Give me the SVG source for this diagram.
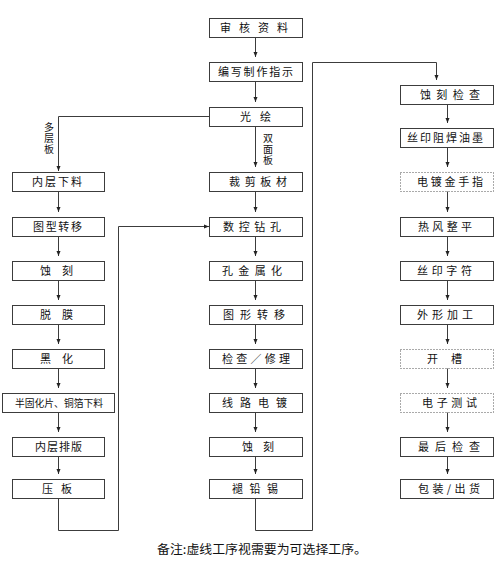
<svg xmlns="http://www.w3.org/2000/svg" width="500" height="569" viewBox="0 0 500 569">
<style>
.b{fill:#fff;stroke:#3c3c3c;stroke-width:1}
.d{fill:#fff;stroke:#555;stroke-width:1;stroke-dasharray:1 2}
.t{font-family:"Noto Sans CJK SC","Liberation Sans",sans-serif;font-size:11px;fill:#111;text-anchor:middle}
.v{font-family:"Noto Sans CJK SC","Liberation Sans",sans-serif;font-size:10px;fill:#111;writing-mode:vertical-rl;text-orientation:upright}
.c{fill:none;stroke:#3c3c3c;stroke-width:1}
</style>
<defs>
<marker id="a" markerUnits="userSpaceOnUse" markerWidth="5" markerHeight="5" refX="5" refY="2.5" orient="auto">
<path d="M0,0.5 L5,2.5 L0,4.5 z" fill="#222"/>
</marker>
</defs>
<rect width="500" height="569" fill="#fff"/>
<g id="connectors" class="c" marker-end="url(#a)">
<path d="M255.5,37 V57"/>
<path d="M255.5,81 V102"/>
<path d="M255.5,126 V167"/>
<path d="M255.5,191 V212"/>
<path d="M255.5,236 V256"/>
<path d="M255.5,280 V300"/>
<path d="M255.5,324 V344"/>
<path d="M255.5,368 V388"/>
<path d="M255.5,412 V432"/>
<path d="M255.5,456 V474"/>
<path d="M209,116.5 H58.5 V171"/>
<path d="M58.5,191 V212"/>
<path d="M58.5,236 V256"/>
<path d="M58.5,280 V300"/>
<path d="M58.5,324 V344"/>
<path d="M58.5,368 V388"/>
<path d="M58.5,412 V432"/>
<path d="M58.5,456 V474"/>
<path d="M58.5,498 V530.5 H118.5 V226.5 H209"/>
<path d="M255.5,498 V530.5 H312.5 V62.5 H436.5 V80"/>
<path d="M447.5,104 V123"/>
<path d="M447.5,147 V167"/>
<path d="M447.5,191 V212"/>
<path d="M447.5,236 V256"/>
<path d="M447.5,280 V300"/>
<path d="M447.5,324 V344"/>
<path d="M447.5,368 V388"/>
<path d="M447.5,412 V432"/>
<path d="M447.5,456 V474"/>
</g>
<g id="lbl-multi"><text class="v" x="49" y="122" textLength="32" lengthAdjust="spacing">多层板</text></g>
<g id="lbl-double"><text class="v" x="268" y="133" textLength="32" lengthAdjust="spacing">双面板</text></g>

<g id="n-shenhe"><rect class="b" x="209.5" y="18.5" width="93" height="19"/><text class="t" x="254" y="32" textLength="68" lengthAdjust="spacing">审核资料</text></g>
<g id="n-bianxie"><rect class="b" x="209.5" y="62.5" width="93" height="19"/><text class="t" x="255.5" y="76" textLength="75" lengthAdjust="spacing">编写制作指示</text></g>
<g id="n-guanghui"><rect class="b" x="209.5" y="107.5" width="93" height="19"/><text class="t" x="255.5" y="121" textLength="31" lengthAdjust="spacing">光 绘</text></g>
<g id="n-caijian"><rect class="b" x="209.5" y="172.5" width="93" height="19"/><text class="t" x="258" y="186" textLength="58" lengthAdjust="spacing">裁剪板材</text></g>
<g id="n-shukong"><rect class="b" x="209.5" y="217.5" width="93" height="19"/><text class="t" x="252" y="231" textLength="58" lengthAdjust="spacing">数控钻孔</text></g>
<g id="n-kongjin"><rect class="b" x="209.5" y="261.5" width="93" height="19"/><text class="t" x="252" y="275" textLength="60" lengthAdjust="spacing">孔金属化</text></g>
<g id="n-tuxing"><rect class="b" x="209.5" y="305.5" width="93" height="19"/><text class="t" x="254" y="319" textLength="62" lengthAdjust="spacing">图形转移</text></g>
<g id="n-jiancha"><rect class="b" x="209.5" y="349.5" width="93" height="19"/><text class="t" x="256" y="363" textLength="68" lengthAdjust="spacing">检查／修理</text></g>
<g id="n-xianlu"><rect class="b" x="209.5" y="393.5" width="93" height="19"/><text class="t" x="254.5" y="407" textLength="65" lengthAdjust="spacing">线路电镀</text></g>
<g id="n-shike2"><rect class="b" x="209.5" y="437.5" width="93" height="19"/><text class="t" x="258" y="451" textLength="32" lengthAdjust="spacing">蚀 刻</text></g>
<g id="n-tuiqian"><rect class="b" x="209.5" y="479.5" width="93" height="19"/><text class="t" x="255" y="493" textLength="46" lengthAdjust="spacing">褪铅锡</text></g>

<g id="n-neiceng"><rect class="b" x="12.5" y="172.5" width="92" height="19"/><text class="t" x="57" y="186" textLength="50" lengthAdjust="spacing">内层下料</text></g>
<g id="n-tuxing1"><rect class="b" x="12.5" y="217.5" width="92" height="19"/><text class="t" x="57.5" y="231" textLength="49" lengthAdjust="spacing">图型转移</text></g>
<g id="n-shike1"><rect class="b" x="12.5" y="261.5" width="92" height="19"/><text class="t" x="56.5" y="275" textLength="33" lengthAdjust="spacing">蚀 刻</text></g>
<g id="n-tuomo"><rect class="b" x="12.5" y="305.5" width="92" height="19"/><text class="t" x="56.5" y="319" textLength="33" lengthAdjust="spacing">脱 膜</text></g>
<g id="n-heihua"><rect class="b" x="12.5" y="349.5" width="92" height="19"/><text class="t" x="56.5" y="363" textLength="33" lengthAdjust="spacing">黑 化</text></g>
<g id="n-bangu"><rect class="b" x="2.5" y="393.5" width="112" height="19"/><text class="t" x="59" y="407" textLength="88" lengthAdjust="spacingAndGlyphs" style="font-size:10px">半固化片、铜箔下料</text></g>
<g id="n-paiban"><rect class="b" x="12.5" y="437.5" width="92" height="19"/><text class="t" x="58.5" y="451" textLength="47" lengthAdjust="spacing">内层排版</text></g>
<g id="n-yaban"><rect class="b" x="12.5" y="479.5" width="92" height="19"/><text class="t" x="57" y="493" textLength="30" lengthAdjust="spacing">压 板</text></g>

<g id="n-shikejc"><rect class="b" x="400.5" y="85.5" width="93" height="19"/><text class="t" x="450" y="99" textLength="60" lengthAdjust="spacing">蚀刻检查</text></g>
<g id="n-siyin"><rect class="b" x="400.5" y="128.5" width="93" height="19"/><text class="t" x="445" y="142" textLength="76" lengthAdjust="spacing">丝印阻焊油墨</text></g>
<g id="n-dianduj"><rect class="d" x="400.5" y="172.5" width="93" height="19"/><text class="t" x="450" y="186" textLength="66" lengthAdjust="spacing">电镀金手指</text></g>
<g id="n-refeng"><rect class="b" x="400.5" y="217.5" width="93" height="19"/><text class="t" x="445" y="231" textLength="54" lengthAdjust="spacing">热风整平</text></g>
<g id="n-zifu"><rect class="b" x="400.5" y="261.5" width="93" height="19"/><text class="t" x="444.5" y="275" textLength="55" lengthAdjust="spacing">丝印字符</text></g>
<g id="n-waixing"><rect class="b" x="400.5" y="305.5" width="93" height="19"/><text class="t" x="445" y="319" textLength="56" lengthAdjust="spacing">外形加工</text></g>
<g id="n-kaicao"><rect class="d" x="400.5" y="349.5" width="93" height="19"/><text class="t" x="444.5" y="363" textLength="35" lengthAdjust="spacing">开 槽</text></g>
<g id="n-dianzi"><rect class="d" x="400.5" y="393.5" width="93" height="19"/><text class="t" x="449.5" y="407" textLength="55" lengthAdjust="spacing">电子测试</text></g>
<g id="n-zuihou"><rect class="b" x="400.5" y="437.5" width="93" height="19"/><text class="t" x="449" y="451" textLength="62" lengthAdjust="spacing">最后检查</text></g>
<g id="n-baozhuang"><rect class="b" x="400.5" y="479.5" width="93" height="19"/><text class="t" x="449" y="493" textLength="62" lengthAdjust="spacing">包装/出货</text></g>

<g id="note"><text class="t" x="262" y="554" textLength="210" lengthAdjust="spacingAndGlyphs" style="font-size:12px">备注:虚线工序视需要为可选择工序。</text></g>
</svg>
